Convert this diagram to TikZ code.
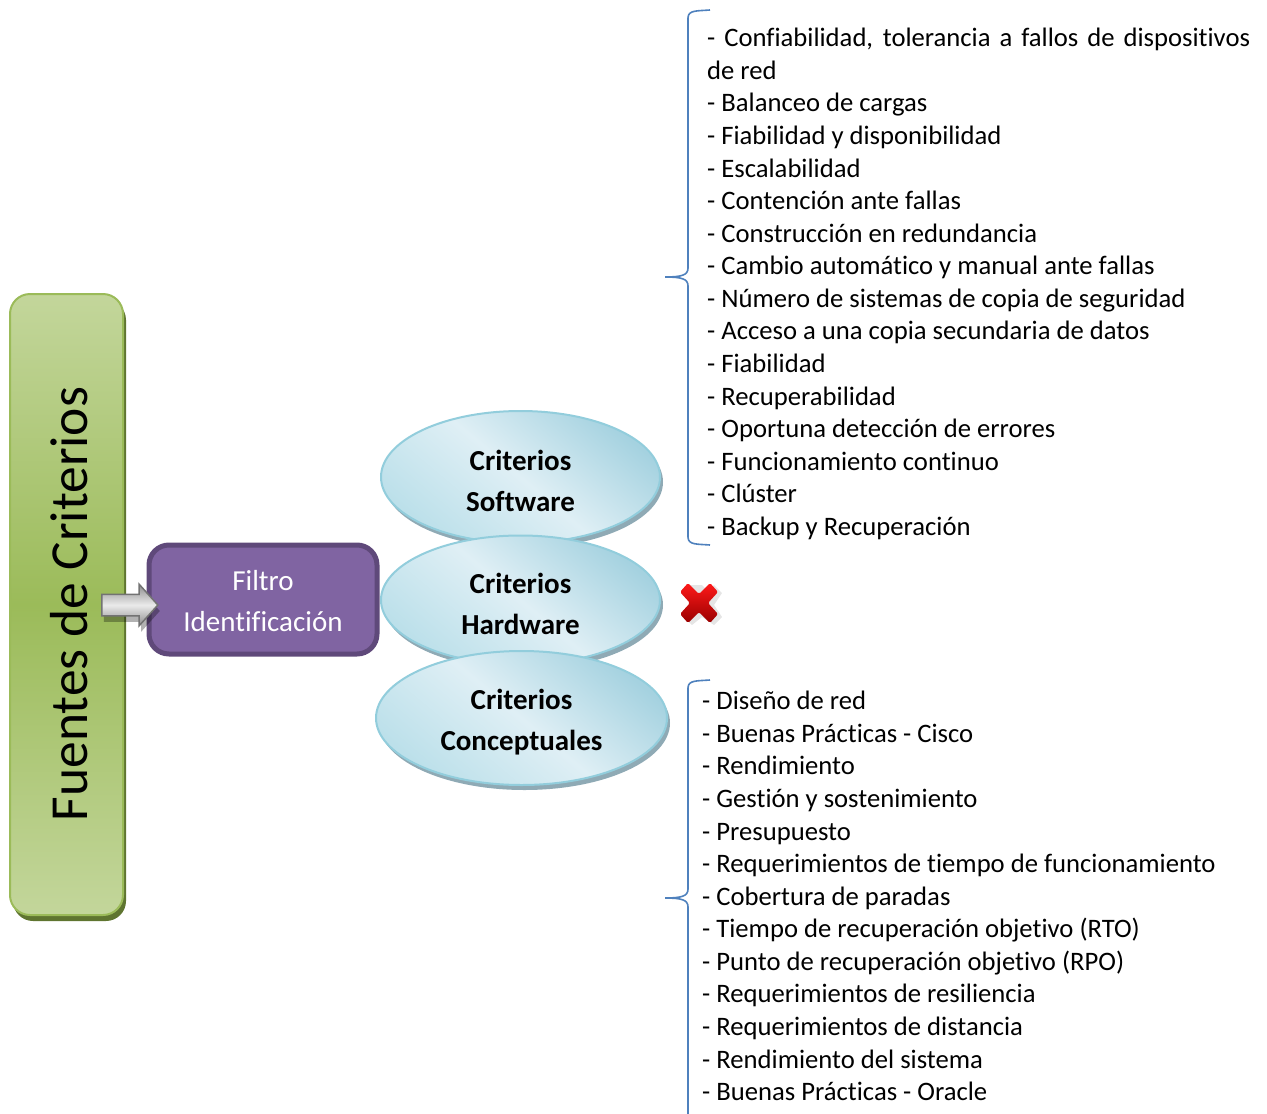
\documentclass[tikz,border=0pt]{standalone}
\usepackage{fontspec}
\setmainfont{Carlito}[Ligatures=CommonOff]
\usetikzlibrary{shapes.geometric,shapes.arrows,shadows}

\definecolor{verdeBorde}{HTML}{9BBB59}
\definecolor{verdeClaro}{HTML}{C3D69B}
\definecolor{verdeSombra}{HTML}{5F7530}
\definecolor{moradoFondo}{HTML}{8064A2}
\definecolor{moradoBorde}{HTML}{5F497A}
\definecolor{azulLlave}{HTML}{4F81BD}
\definecolor{azulBorde}{HTML}{92CDDC}
\definecolor{azulClaro}{HTML}{DFEFF5}
\definecolor{azulOscuro}{HTML}{A5D2E0}
\definecolor{azulMedio}{HTML}{BCE0EA}
\definecolor{azulSombra}{HTML}{8FAAB5}

\tikzset{
    criterio/.style={ellipse, draw=azulBorde, line width=2pt, inner sep=0pt, align=center,
        top color=azulOscuro, bottom color=azulMedio, middle color=azulClaro, shading angle=-40,
        font=\fontsize{29}{41}\selectfont\bfseries,
        drop shadow={shadow xshift=3pt, shadow yshift=-5pt, fill=azulSombra, opacity=1}},
    lista/.style={anchor=north west, inner sep=0pt, font=\fontsize{26.65}{32.58}\selectfont},
    llave/.style={draw=azulLlave, line width=1.6pt}
}

\begin{document}
\begin{tikzpicture}[x=1pt, y=-1pt]
    \useasboundingbox (0,0) rectangle (1267,1114);

    % fuente
    \node[draw=verdeBorde, line width=2pt, rounded corners=20pt, inner sep=0pt,
        minimum width=113pt, minimum height=621pt,
        top color=verdeClaro, bottom color=verdeClaro, middle color=verdeBorde,
        drop shadow={shadow xshift=3pt, shadow yshift=-6pt, fill=verdeSombra, opacity=1}] (fuente) at (66.5,604.5) {};
    \node[rotate=90, font=\fontsize{53.5}{53.5}\selectfont] (fuenteTexto) at (69,604) {Fuentes de Criterios};

    % filtro
    \node[draw=moradoBorde, line width=5pt, rounded corners=20pt, fill=moradoFondo, text=white, align=center,
        minimum width=228pt, minimum height=109pt, font=\fontsize{29}{41}\selectfont] (filtro) at (263,599.5) {\rule{0pt}{24pt}Filtro\\Identificación};

    % flecha
    \node[single arrow, draw=black!55, line width=1.5pt, inner sep=0pt, minimum height=56pt, minimum width=40pt,
        single arrow head extend=10pt, single arrow tip angle=96,
        top color=black!45, bottom color=black!45, middle color=black!8,
        drop shadow={shadow xshift=2pt, shadow yshift=-6pt, fill=black, opacity=0.3}] (flecha) at (125,605) {\rule{0pt}{20pt}};

    % criterios
    \node[criterio, minimum width=279pt, minimum height=132pt] (software) at (520.5,477) {\rule{0pt}{28pt}Criterios\\Software};
    \node[criterio, minimum width=279pt, minimum height=129pt] (hardware) at (520.5,600) {\rule{0pt}{28pt}Criterios\\Hardware};
    \node[criterio, minimum width=291pt, minimum height=134pt] (conceptuales) at (521.5,718) {\rule{0pt}{28pt}Criterios\\Conceptuales};

    % equis
    \fill[black, opacity=0.1] (702,585) -- (708,591) -- (714,585) -- (722,593) -- (714,605)
        -- (722,617) -- (714,625) -- (702,617) -- (692,625) -- (683,617) -- (692,605) -- (683,593) -- (690,585) -- cycle;
    \shade[top color=red!90!white, bottom color=red!60!black, rounded corners=1.5pt]
        (688,583) -- (699,594) -- (710,583) -- (718,592) -- (708,603) -- (718,614)
        -- (710,623) -- (699,612) -- (688,623) -- (680,614) -- (690,603) -- (680,592) -- cycle;

    % llaves
    \draw[llave] (710,10) .. controls (697,11) and (688,10) .. (688,18) -- (688,268)
        .. controls (688,275) and (682,277) .. (665,277) .. controls (682,277) and (688,279) .. (688,286)
        -- (688,537) .. controls (688,545) and (697,544) .. (710,545);
    \draw[llave] (710,680) .. controls (697,681) and (688,680) .. (688,688) -- (688,889)
        .. controls (688,896) and (682,898) .. (665,898) .. controls (682,898) and (688,900) .. (688,907) -- (688,1114);

    % listas
    \node[lista, text width=543pt, align=justify] (listaSoftware) at (707,28) {%
        - Confiabilidad, tolerancia a fallos de dispositivos\linebreak de red\\
        - Balanceo de cargas\\
        - Fiabilidad y disponibilidad\\
        - Escalabilidad\\
        - Contención ante fallas\\
        - Construcción en redundancia\\
        - Cambio automático y manual ante fallas\\
        - Número de sistemas de copia de seguridad\\
        - Acceso a una copia secundaria de datos\\
        - Fiabilidad\\
        - Recuperabilidad\\
        - Oportuna detección de errores\\
        - Funcionamiento continuo\\
        - Clúster\\
        - Backup y Recuperación};
    \node[lista, align=left] (listaConceptuales) at (702,691) {%
        - Diseño de red\\
        - Buenas Prácticas - Cisco\\
        - Rendimiento\\
        - Gestión y sostenimiento\\
        - Presupuesto\\
        - Requerimientos de tiempo de funcionamiento\\
        - Cobertura de paradas\\
        - Tiempo de recuperación objetivo (RTO)\\
        - Punto de recuperación objetivo (RPO)\\
        - Requerimientos de resiliencia\\
        - Requerimientos de distancia\\
        - Rendimiento del sistema\\
        - Buenas Prácticas - Oracle};
\end{tikzpicture}
\end{document}
